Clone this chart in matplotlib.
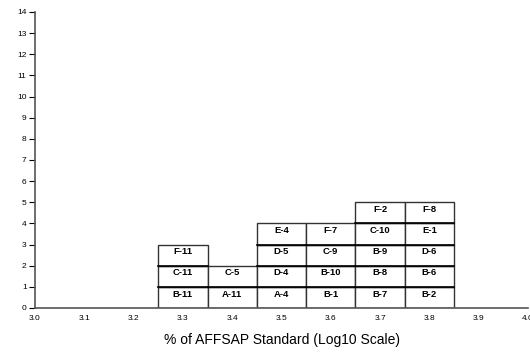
import matplotlib.pyplot as plt
from matplotlib.patches import Rectangle

plt.rcParams['font.family'] = ['Liberation Sans', 'DejaVu Sans']

# bin centres (log10 of % standard) and the samples stacked in each bin, bottom to top
bins = [3.3, 3.4, 3.5, 3.6, 3.7, 3.8]
stacks = [
    ['B-11', 'C-11', 'F-11'],
    ['A-11', 'C-5'],
    ['A-4', 'D-4', 'D-5', 'E-4'],
    ['B-1', 'B-10', 'C-9', 'F-7'],
    ['B-7', 'B-8', 'B-9', 'C-10', 'F-2'],
    ['B-2', 'B-6', 'D-6', 'E-1', 'F-8'],
]
x_ticks = [3.0, 3.1, 3.2, 3.3, 3.4, 3.5, 3.6, 3.7, 3.8, 3.9, 4.0]
bin_width = 0.1

fig = plt.figure(figsize=(5.3, 3.52), dpi=100)
ax = fig.add_axes([35 / 530, 44 / 352, 493 / 530, 296 / 352])

for x, names in zip(bins, stacks):
    for i, name in enumerate(names):
        ax.add_patch(Rectangle((x - bin_width / 2, i), bin_width, 1,
                               facecolor='white', edgecolor='#333333', linewidth=1.0))
        ax.text(x, i + 0.66, name, ha='center', va='center',
                fontsize=6.8, fontweight='bold')
    # heavier dividers between stacked cells
    for i in range(1, len(names)):
        ax.plot([x - bin_width / 2, x + bin_width / 2], [i, i], color='black', linewidth=1.2)

ax.set_xlim(3.0, 4.0)
ax.set_ylim(0, 14)
ax.set_xticks(x_ticks)
ax.set_xticklabels([f'{t:.1f}' for t in x_ticks])
ax.set_yticks(range(0, 15))
ax.tick_params(axis='x', length=0, labelsize=6, pad=5)
ax.tick_params(axis='y', length=4, labelsize=6, pad=2)
for side in ['top', 'right']:
    ax.spines[side].set_visible(False)
for side in ['left', 'bottom']:
    ax.spines[side].set_color('#555555')
    ax.spines[side].set_linewidth(1.2)
ax.spines['bottom'].set_position(('data', 0))
ax.set_xlabel('% of AFFSAP Standard (Log10 Scale)', fontsize=10, labelpad=8)

fig.savefig('out.png', dpi=100)
